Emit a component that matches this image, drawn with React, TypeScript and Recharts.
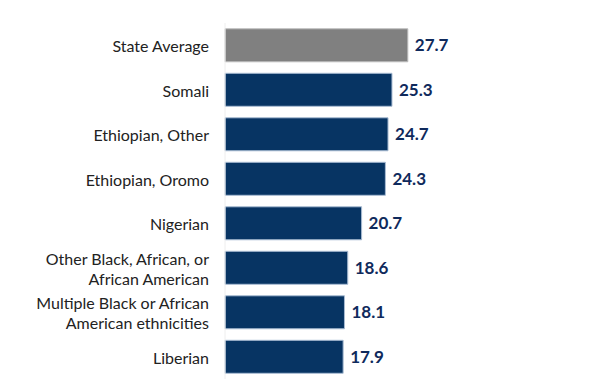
import React from 'react';
import { BarChart, Bar, XAxis, YAxis, Cell, LabelList } from 'recharts';

const categories = [
  'State Average',
  'Somali',
  'Ethiopian, Other',
  'Ethiopian, Oromo',
  'Nigerian',
  'Other Black, African, or\nAfrican American',
  'Multiple Black or African\nAmerican ethnicities',
  'Liberian',
];
const values = [27.7, 25.3, 24.7, 24.3, 20.7, 18.6, 18.1, 17.9];

const data = categories.map((name, i) => ({ name, value: values[i] }));

const NAVY = '#073463';
const GREY = '#808080';

// multi-line category labels, right aligned next to the axis
const CategoryTick = (props: any) => {
  const { x, y, payload } = props;
  const lines = String(payload.value).split('\n');
  const lh = 20;
  const y0 = y - ((lines.length - 1) * lh) / 2;
  return (
    <text x={x} y={y0} textAnchor="end" dominantBaseline="central" fill="#222" fontSize={16} fontFamily="Lato, sans-serif">
      {lines.map((l, i) => (
        <tspan key={i} x={x} y={y0 + i * lh} dominantBaseline="central">
          {l}
        </tspan>
      ))}
    </text>
  );
};

export default function App() {
  return (
    <div style={{ position: 'absolute', left: 0, top: 0, background: '#fff' }}>
      <BarChart
        width={613}
        height={391}
        data={data}
        layout="vertical"
        barCategoryGap="13%"
        margin={{ top: 23, right: 124, left: 0, bottom: 12 }}
      >
        <XAxis type="number" domain={[0, 40]} hide />
        <YAxis
          type="category"
          dataKey="name"
          width={225}
          tickLine={false}
          tickSize={0}
          tickMargin={16}
          axisLine={{ stroke: '#eeeeee' }}
          tick={<CategoryTick />}
          interval={0}
        />
        <Bar dataKey="value" isAnimationActive={false} stroke="#a9bcd3" strokeWidth={1}>
          {data.map((d, i) => (
            <Cell key={`cell-${i}`} fill={i === 0 ? GREY : NAVY} stroke={i === 0 ? '#bdbdbd' : '#a9bcd3'} />
          ))}
          <LabelList
            dataKey="value"
            position="right"
            offset={7}
            fill="#0f2a5c"
            fontSize={17}
            fontWeight="bold"
            fontFamily="Lato, sans-serif"
            formatter={(v: any) => Number(v).toFixed(1)}
          />
        </Bar>
      </BarChart>
    </div>
  );
}
